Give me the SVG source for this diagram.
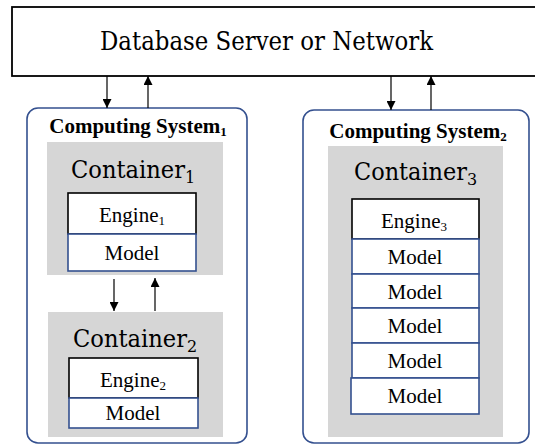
<svg xmlns="http://www.w3.org/2000/svg" width="535" height="446" viewBox="0 0 535 446">
  <style>
    .system { fill: #fff; stroke: #34508f; stroke-width: 1.6; }
    .container { fill: #d6d6d6; stroke: none; }
    .engine { fill: #fff; stroke: #000; stroke-width: 1.6; }
    .model { fill: #fff; stroke: #34508f; stroke-width: 1.6; }
    .link { stroke: #000; stroke-width: 1.2; fill: none; marker-end: url(#tip); }
  </style>
  <defs>
    <marker id="tip" viewBox="0 0 10 10" refX="10" refY="5" markerWidth="9" markerHeight="9" markerUnits="userSpaceOnUse" orient="auto">
      <path d="M0,0 L10,5 L0,10 z" fill="#000"/>
    </marker>
  </defs>

  <rect width="535" height="446" fill="#fff"/>

  <!-- shared data store -->
  <g id="database">
    <rect x="12" y="7" width="530" height="69" fill="#fff" stroke="#000" stroke-width="1.8"/>
    <text font-family="DejaVu Serif, serif" font-size="26" x="100" y="50" textLength="333" lengthAdjust="spacingAndGlyphs">Database Server or Network</text>
  </g>

  <!-- host 1 -->
  <g id="system1">
    <rect class="system" x="27" y="108" width="220" height="335" rx="11"/>
    <text font-family="Liberation Serif" font-size="21" font-weight="bold" text-anchor="middle" x="138" y="133">Computing System<tspan font-size="13" dy="3">1</tspan></text>
  </g>

  <g id="container1">
    <rect class="container" x="47" y="142" width="176" height="133"/>
    <text font-family="DejaVu Serif, serif" font-size="25" x="71" y="178"><tspan textLength="114" lengthAdjust="spacingAndGlyphs">Container</tspan><tspan font-size="16" dy="5">1</tspan></text>
    <rect class="engine" x="68" y="193" width="128" height="41"/>
    <text font-family="Liberation Serif" font-size="21" text-anchor="middle" x="132" y="222">Engine<tspan font-size="13" dy="3">1</tspan></text>
    <rect class="model" x="68" y="234" width="128" height="37"/>
    <text font-family="Liberation Serif" font-size="21" text-anchor="middle" x="132" y="260">Model</text>
  </g>

  <g id="container2">
    <rect class="container" x="48" y="312" width="175" height="125"/>
    <text font-family="DejaVu Serif, serif" font-size="25" x="73" y="347"><tspan textLength="114" lengthAdjust="spacingAndGlyphs">Container</tspan><tspan font-size="16" dy="5">2</tspan></text>
    <rect class="engine" x="69" y="358" width="129" height="40"/>
    <text font-family="Liberation Serif" font-size="21" text-anchor="middle" x="133" y="387">Engine<tspan font-size="13" dy="3">2</tspan></text>
    <rect class="model" x="69" y="398" width="129" height="30"/>
    <text font-family="Liberation Serif" font-size="21" text-anchor="middle" x="133" y="420">Model</text>
  </g>

  <!-- host 2 -->
  <g id="system2">
    <rect class="system" x="303" y="110" width="226" height="333" rx="11"/>
    <text font-family="Liberation Serif" font-size="21" font-weight="bold" text-anchor="middle" x="418" y="138">Computing System<tspan font-size="13" dy="3">2</tspan></text>
  </g>

  <g id="container3">
    <rect class="container" x="328" y="146" width="175" height="291"/>
    <text font-family="DejaVu Serif, serif" font-size="25" x="354" y="180"><tspan textLength="113" lengthAdjust="spacingAndGlyphs">Container</tspan><tspan font-size="16" dy="5">3</tspan></text>
    <rect class="engine" x="352" y="199" width="127" height="40"/>
    <text font-family="Liberation Serif" font-size="21" text-anchor="middle" x="414" y="228">Engine<tspan font-size="13" dy="3">3</tspan></text>
    <rect class="model" x="352" y="239" width="127" height="35"/>
    <text font-family="Liberation Serif" font-size="21" text-anchor="middle" x="415" y="264">Model</text>
    <rect class="model" x="352" y="274" width="127" height="34"/>
    <text font-family="Liberation Serif" font-size="21" text-anchor="middle" x="415" y="299">Model</text>
    <rect class="model" x="352" y="308" width="127" height="35"/>
    <text font-family="Liberation Serif" font-size="21" text-anchor="middle" x="415" y="333">Model</text>
    <rect class="model" x="352" y="343" width="127" height="35"/>
    <text font-family="Liberation Serif" font-size="21" text-anchor="middle" x="415" y="368">Model</text>
    <rect class="model" x="351" y="378" width="128" height="36"/>
    <text font-family="Liberation Serif" font-size="21" text-anchor="middle" x="415" y="403">Model</text>
  </g>

  <!-- data flow -->
  <g id="connectors">
    <line class="link" x1="107" y1="76" x2="107" y2="108"/>
    <line class="link" x1="148" y1="108" x2="148" y2="76"/>
    <line class="link" x1="391" y1="76" x2="391" y2="110"/>
    <line class="link" x1="431" y1="110" x2="431" y2="76"/>
    <line class="link" x1="114" y1="279" x2="114" y2="311"/>
    <line class="link" x1="155" y1="311" x2="155" y2="278"/>
  </g>
</svg>
